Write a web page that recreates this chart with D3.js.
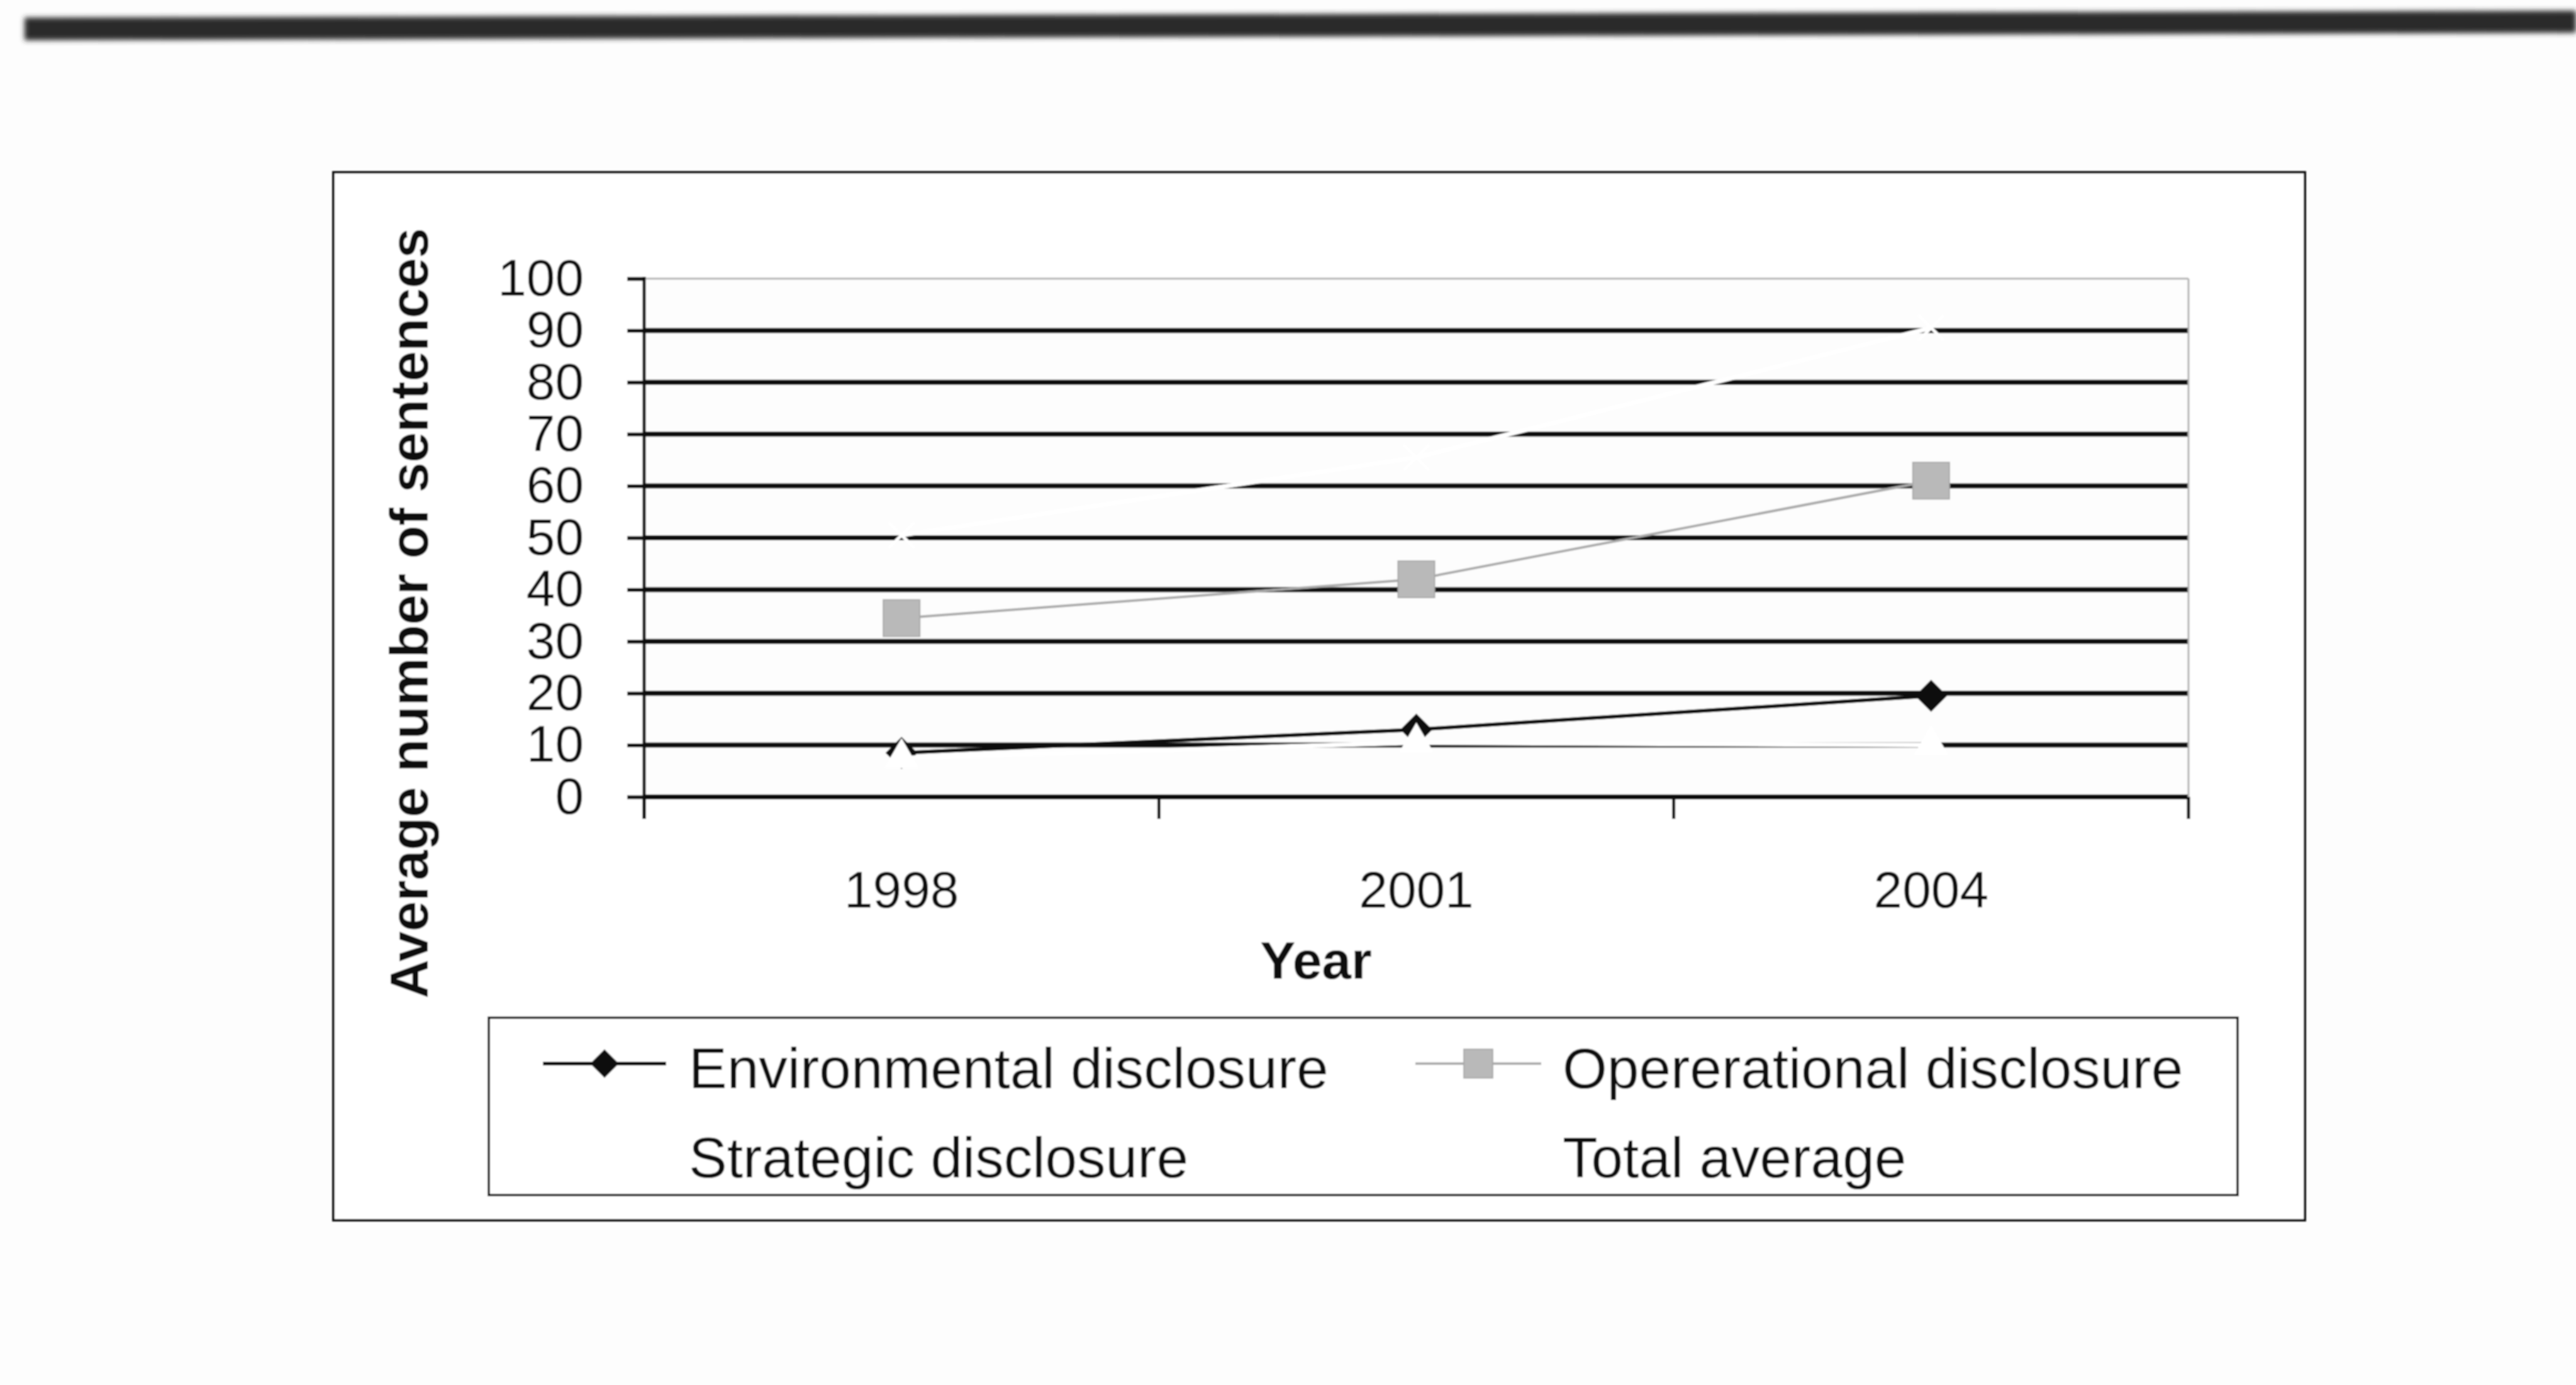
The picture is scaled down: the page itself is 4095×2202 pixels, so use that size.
<!DOCTYPE html>
<html>
<head>
<meta charset="utf-8">
<script src="https://cdn.jsdelivr.net/npm/d3@7"></script>
<style>
  html, body { margin: 0; padding: 0; background: #fdfdfd; }
  svg { display: block; }
  text { font-family: "Liberation Sans", Arial, sans-serif; fill: #111; }
</style>
</head>
<body>
<svg id="chart" width="4095" height="2202"></svg>
<script>
// Average number of disclosure sentences per year
const years = ["1998", "2001", "2004"];
const environmental = [8.5, 13, 19.5];
const operational = [34.5, 42, 61];
const strategic = [7.5, 10.5, 10];
const totalAverage = [50.5, 65.5, 90.5];
const yTicks = [0, 10, 20, 30, 40, 50, 60, 70, 80, 90, 100];
const seriesNames = ["Environmental disclosure", "Opererational disclosure", "Strategic disclosure", "Total average"];
const yTitle = "Average number of sentences";
const xTitle = "Year";

const svg = d3.select("#chart");

const defs = svg.append("defs");
defs.append("filter").attr("id", "soft").attr("x", "-5%").attr("y", "-5%").attr("width", "110%").attr("height", "110%")
  .append("feGaussianBlur").attr("stdDeviation", 1.1);
defs.append("filter").attr("id", "band").attr("x", "-5%").attr("y", "-100%").attr("width", "110%").attr("height", "300%")
  .append("feGaussianBlur").attr("stdDeviation", 4);

// dark rule across the top of the page
svg.append("path")
  .attr("d", "M39,28 L4095,17 L4095,52 L39,64 Z")
  .attr("fill", "#2a2a2a")
  .attr("filter", "url(#band)");

const g = svg.append("g").attr("filter", "url(#soft)");

// outer chart frame
g.append("rect")
  .attr("x", 530).attr("y", 274).attr("width", 3134).attr("height", 1666)
  .attr("fill", "#ffffff").attr("stroke", "#111").attr("stroke-width", 4);

const plot = { left: 1024, right: 3479, top: 443, bottom: 1267 };

const x = d3.scaleBand().domain(years).range([plot.left, plot.right]).paddingInner(0).paddingOuter(0);
const y = d3.scaleLinear().domain([0, 100]).range([plot.bottom, plot.top]);
const cx = d => x(d) + x.bandwidth() / 2;

// plot area
g.append("rect")
  .attr("x", plot.left).attr("y", plot.top)
  .attr("width", plot.right - plot.left).attr("height", plot.bottom - plot.top)
  .attr("fill", "#fdfdfd");

// horizontal gridlines
g.append("g").selectAll("line")
  .data(yTicks)
  .join("line")
  .attr("x1", plot.left).attr("x2", plot.right)
  .attr("y1", d => y(d)).attr("y2", d => y(d))
  .attr("stroke", d => d === 100 ? "#b4b4b4" : "#0d0d0d")
  .attr("stroke-width", d => d === 100 ? 3 : 8);

// right border of the plot area
g.append("line")
  .attr("x1", plot.right).attr("x2", plot.right)
  .attr("y1", plot.top).attr("y2", plot.bottom)
  .attr("stroke", "#b4b4b4").attr("stroke-width", 3);

// y axis
const yAxis = d3.axisLeft(y).tickValues(yTicks).tickSize(27).tickPadding(69);
const yAxisG = g.append("g")
  .attr("transform", `translate(${plot.left},0)`)
  .call(yAxis);
yAxisG.select(".domain").remove();
yAxisG.selectAll(".tick line").attr("stroke", "#111").attr("stroke-width", 6);
yAxisG.selectAll(".tick text")
  .attr("font-size", 82)
  .attr("font-family", "Liberation Sans, Arial, sans-serif")
  .attr("fill", "#111");

// vertical axis line, running down to the category tick length
g.append("line")
  .attr("x1", plot.left).attr("x2", plot.left)
  .attr("y1", plot.top - 3).attr("y2", plot.bottom + 35)
  .attr("stroke", "#111").attr("stroke-width", 5);

// x axis: ticks on the category boundaries, labels centred in each band
const boundaries = years.map(d => x(d)).concat([x.range()[1]]);
g.append("g").selectAll("line")
  .data(boundaries)
  .join("line")
  .attr("x1", d => d).attr("x2", d => d)
  .attr("y1", plot.bottom).attr("y2", plot.bottom + 35)
  .attr("stroke", "#111").attr("stroke-width", 5);

g.append("g").selectAll("text")
  .data(years)
  .join("text")
  .attr("x", d => cx(d))
  .attr("y", 1443)
  .attr("text-anchor", "middle")
  .attr("font-size", 82)
  .text(d => d);

// axis titles
g.append("text")
  .attr("transform", "translate(680,975) rotate(-90)")
  .attr("text-anchor", "middle")
  .attr("font-size", 86)
  .attr("font-weight", "bold")
  .text(yTitle);

g.append("text")
  .attr("x", 2092).attr("y", 1556)
  .attr("text-anchor", "middle")
  .attr("font-size", 84)
  .attr("font-weight", "bold")
  .text(xTitle);

// series definitions
const series = [
  { name: seriesNames[0], values: environmental, line: "#111", width: 6, symbol: d3.symbolSquare, size: 1300, rotate: 45, fill: "#111", stroke: "none" },
  { name: seriesNames[1], values: operational, line: "#ababab", width: 4, symbol: d3.symbolSquare, size: 3364, rotate: 0, fill: "#b9b9b9", stroke: "#a8a8a8" },
  { name: seriesNames[2], values: strategic, line: "#ffffff", width: 7, symbol: d3.symbolTriangle, size: 1310, rotate: 0, fill: "#ffffff", stroke: "none" },
  { name: seriesNames[3], values: totalAverage, line: "#ffffff", width: 7, symbol: d3.symbolX || d3.symbolCross, size: 1100, rotate: d3.symbolX ? 0 : 45, fill: "none", stroke: "#ffffff", outline: true }
];

const line = d3.line()
  .x(d => cx(d.year))
  .y(d => y(d.value));

series.forEach(s => {
  const pts = years.map((yr, i) => ({ year: yr, value: s.values[i] }));
  g.append("path")
    .datum(pts)
    .attr("d", line)
    .attr("fill", "none")
    .attr("stroke", s.line)
    .attr("stroke-width", s.width)
    .attr("stroke-linejoin", "round");
  g.append("g").selectAll("path")
    .data(pts)
    .join("path")
    .attr("transform", d => `translate(${cx(d.year)},${y(d.value)}) rotate(${s.rotate})`)
    .attr("d", d3.symbol().type(s.symbol).size(s.size))
    .attr("fill", s.outline ? "none" : s.fill)
    .attr("stroke", s.stroke)
    .attr("stroke-width", s.outline ? 5 : 2);
});

// legend
g.append("rect")
  .attr("x", 777).attr("y", 1618).attr("width", 2780).attr("height", 282)
  .attr("fill", "#ffffff").attr("stroke", "#111").attr("stroke-width", 4);

const legendPos = [
  { lx1: 863, lx2: 1059, tx: 1095, ty: 1730, sy: 1691 },
  { lx1: 2250, lx2: 2450, tx: 2484, ty: 1730, sy: 1691 },
  { lx1: 863, lx2: 1059, tx: 1095, ty: 1872, sy: 1833 },
  { lx1: 2250, lx2: 2450, tx: 2484, ty: 1872, sy: 1833 }
];
const legendScale = [0.8, 0.62, 0.8, 0.8];

series.forEach((s, i) => {
  const p = legendPos[i];
  const lg = g.append("g");
  lg.append("line")
    .attr("x1", p.lx1).attr("x2", p.lx2)
    .attr("y1", p.sy).attr("y2", p.sy)
    .attr("stroke", s.line).attr("stroke-width", s.width);
  lg.append("path")
    .attr("transform", `translate(${(p.lx1 + p.lx2) / 2},${p.sy}) rotate(${s.rotate})`)
    .attr("d", d3.symbol().type(s.symbol).size(s.size * legendScale[i]))
    .attr("fill", s.outline ? "none" : s.fill)
    .attr("stroke", s.stroke)
    .attr("stroke-width", s.outline ? 5 : 2);
  lg.append("text")
    .attr("x", p.tx).attr("y", p.ty)
    .attr("font-size", 91)
    .text(s.name);
});
</script>
</body>
</html>
